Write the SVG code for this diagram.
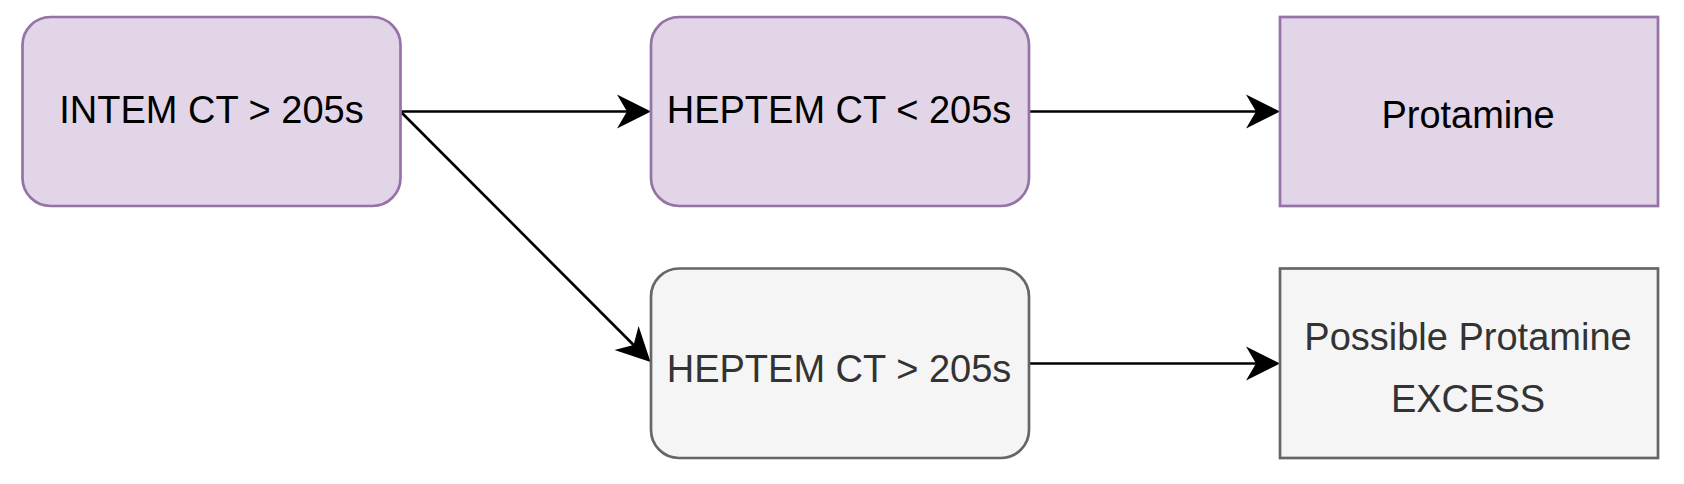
<svg xmlns="http://www.w3.org/2000/svg" width="1684" height="484" viewBox="0 0 1684 484">
<style>
.purple{fill:#e1d5e7;stroke:#9673a6;stroke-width:2.7}
.grey{fill:#f5f5f5;stroke:#666666;stroke-width:2.7}
.t{font-family:"Liberation Sans",Arial,Helvetica,sans-serif;font-size:38px;text-anchor:middle}
.tp{fill:#000000}
.tg{fill:#333333}
.edge{fill:none;stroke:#000000;stroke-width:2.7}
</style>
<defs>
<marker id="arrow" markerUnits="userSpaceOnUse" viewBox="-12 -20 40 40" markerWidth="40" markerHeight="40" refX="0" refY="0" orient="auto">
<path d="M24,0 L-10,-17 L0,0 L-10,17 Z" fill="#000000"/>
</marker>
</defs>
<rect width="1684" height="484" fill="#ffffff"/>
<g id="connectors">
<path class="edge" d="M400.5,111.5 L627,111.5" marker-end="url(#arrow)"/>
<path class="edge" d="M400.5,111.5 L633.6,345" marker-end="url(#arrow)"/>
<path class="edge" d="M1029,111.5 L1256,111.5" marker-end="url(#arrow)"/>
<path class="edge" d="M1029,363.5 L1256,363.5" marker-end="url(#arrow)"/>
</g>
<g id="node-intem">
<rect class="purple" x="22.5" y="17" width="378" height="189" rx="28" ry="28"/>
<text class="t tp" x="211.5" y="123.3">INTEM CT &gt; 205s</text>
</g>
<g id="node-heptem-lt">
<rect class="purple" x="651" y="17" width="378" height="189" rx="28" ry="28"/>
<text class="t tp" x="839" y="123.3">HEPTEM CT &lt; 205s</text>
</g>
<g id="node-protamine">
<rect class="purple" x="1280" y="17" width="378" height="189"/>
<text class="t tp" x="1468" y="128.3">Protamine</text>
</g>
<g id="node-heptem-gt">
<rect class="grey" x="651" y="268.5" width="378" height="189.5" rx="28" ry="28"/>
<text class="t tg" x="839" y="381.5">HEPTEM CT &gt; 205s</text>
</g>
<g id="node-excess">
<rect class="grey" x="1280" y="268.5" width="378" height="189.5"/>
<text class="t tg" x="1468" y="350">Possible Protamine</text>
<text class="t tg" x="1468" y="411.7">EXCESS</text>
</g>
</svg>
